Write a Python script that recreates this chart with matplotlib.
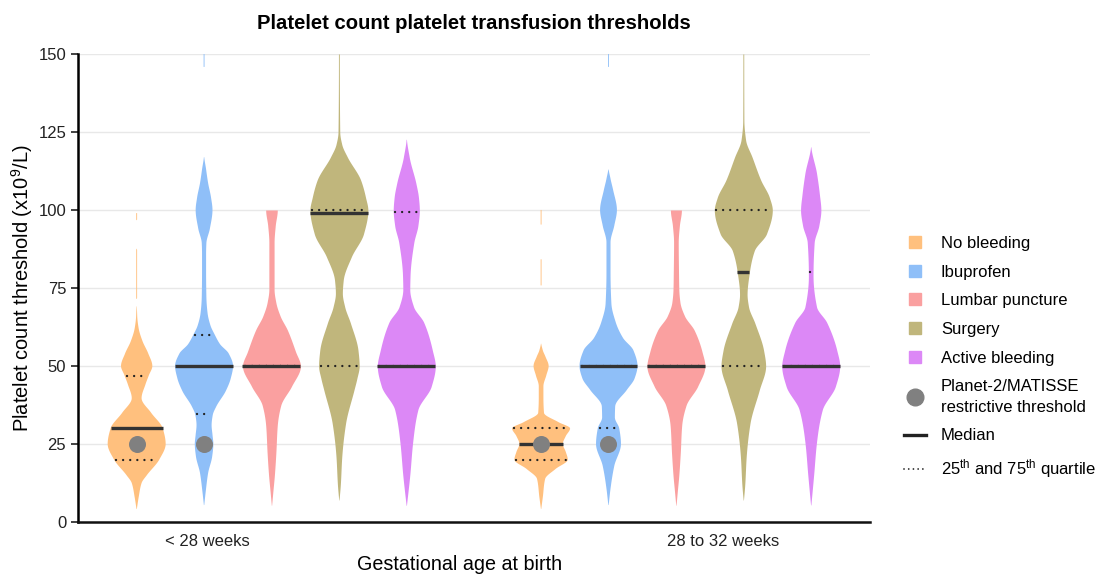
import numpy as np
import matplotlib.pyplot as plt
from matplotlib.lines import Line2D

plt.rcParams['font.family'] = ['Liberation Sans', 'DejaVu Sans']
plt.rcParams['mathtext.fontset'] = 'custom'
plt.rcParams['mathtext.rm'] = 'Liberation Sans'
plt.rcParams['mathtext.it'] = 'Liberation Sans:italic'

#-------------------------------------------------------------
# data
#-------------------------------------------------------------
categories = ["No bleeding", "Ibuprofen", "Lumbar puncture", "Surgery", "Active bleeding"]
colors = ["#FFC07E", "#8FBFF8", "#FAA0A0", "#C0B67C", "#DC88F6"]
groups = ["< 28 weeks", "28 to 32 weeks"]
group_offset = [0, 6]
group_label_pos = [1.05, 8.7]

# violin outlines: y level and relative width (1 = widest point)
nb1_y = [3.8, 8, 12.5, 15, 20, 25, 30, 35, 39.7, 44, 47, 50, 54, 58, 62, 65.8, 67, 71, 72, 87, 88, 96.5, 97, 99]
nb1_w = [0, 0.07, 0.17, 0.35, 0.78, 1.0, 0.9, 0.5, 0.17, 0.3, 0.42, 0.54, 0.4, 0.2, 0.07, 0.02, 0.015, 0, 0.015, 0.015, 0, 0, 0.015, 0.015]
ib1_y = [4.9, 10, 15.7, 21, 25, 28, 31, 34.3, 37, 42, 46, 50, 54, 57, 60, 63, 67, 72, 80, 86, 89.4, 94, 100, 104, 108.6, 113, 118, 145.5, 146, 150]
ib1_w = [0, 0.06, 0.14, 0.28, 0.32, 0.29, 0.26, 0.3, 0.42, 0.75, 0.92, 1.0, 0.85, 0.55, 0.37, 0.22, 0.12, 0.08, 0.07, 0.07, 0.08, 0.2, 0.29, 0.24, 0.14, 0.07, 0, 0, 0.015, 0.015]
lp1_y = [4.9, 10, 15, 22, 31, 37.4, 43.5, 50, 54.6, 61.5, 66, 70.4, 74.6, 80, 89.6, 95, 100]
lp1_w = [0, 0.05, 0.1, 0.15, 0.2, 0.32, 0.69, 1.0, 0.83, 0.55, 0.3, 0.15, 0.09, 0.09, 0.09, 0.13, 0.2]
su1_y = [6.5, 12, 21, 31.6, 42.3, 46, 50, 55, 63.7, 69, 73.3, 77.5, 85, 92.4, 100, 104, 109.6, 117, 121, 125, 150]
su1_w = [0, 0.05, 0.1, 0.23, 0.52, 0.62, 0.7, 0.66, 0.4, 0.2, 0.12, 0.15, 0.43, 0.85, 1.0, 0.92, 0.75, 0.29, 0.1, 0.03, 0.015]
ab1_y = [4.9, 15, 25.6, 36, 43.5, 50, 55, 64, 69, 74.6, 79, 89.6, 95, 100, 104, 108.6, 117, 124]
ab1_w = [0, 0.12, 0.22, 0.4, 0.86, 1.0, 0.9, 0.6, 0.25, 0.12, 0.13, 0.26, 0.4, 0.45, 0.42, 0.33, 0.1, 0]

nb2_y = [3.8, 8, 13.8, 17, 20, 22.5, 25, 27.5, 30, 32, 35, 40, 43.5, 47, 50, 53, 55, 57.8, 75.5, 76, 84, 84.5, 95, 95.5, 100]
nb2_w = [0, 0.06, 0.14, 0.5, 0.92, 0.85, 0.75, 0.85, 1.0, 0.6, 0.1, 0.08, 0.08, 0.18, 0.26, 0.15, 0.06, 0, 0, 0.015, 0.015, 0, 0, 0.015, 0.015]
ib2_y = [4.9, 10.7, 18, 25, 30, 33.5, 37, 42.3, 46, 50, 55, 59, 64, 70, 80, 89.6, 95, 100, 106.4, 110, 113.9, 145.5, 146, 150]
ib2_w = [0, 0.07, 0.2, 0.43, 0.37, 0.22, 0.23, 0.63, 0.9, 1.0, 0.86, 0.5, 0.25, 0.1, 0.07, 0.07, 0.2, 0.29, 0.16, 0.07, 0, 0, 0.015, 0.015]
lp2_y = [4.9, 10, 15, 22, 31, 37.4, 43.5, 50, 54.6, 61.5, 66, 70.4, 74.6, 80, 89.6, 95, 100]
lp2_w = [0, 0.05, 0.1, 0.15, 0.2, 0.35, 0.75, 1.0, 0.9, 0.63, 0.3, 0.14, 0.1, 0.09, 0.08, 0.12, 0.19]
su2_y = [6.5, 12, 21, 31.6, 42.3, 50, 55, 63.7, 69, 73, 79.5, 87, 92.4, 100, 104, 109.6, 117, 122.4, 128.8, 150]
su2_w = [0, 0.05, 0.1, 0.23, 0.55, 0.77, 0.7, 0.4, 0.18, 0.13, 0.2, 0.38, 0.8, 1.0, 0.9, 0.6, 0.3, 0.08, 0.02, 0.015]
ab2_y = [4.9, 15, 25.6, 36, 43.5, 50, 55, 64, 69, 79, 89.6, 95, 100, 105, 111.8, 121.4]
ab2_w = [0, 0.1, 0.2, 0.4, 0.85, 1.0, 0.9, 0.55, 0.2, 0.08, 0.12, 0.28, 0.35, 0.3, 0.2, 0]

shapes_lt28 = [(nb1_y, nb1_w), (ib1_y, ib1_w), (lp1_y, lp1_w), (su1_y, su1_w), (ab1_y, ab1_w)]
shapes_28_32 = [(nb2_y, nb2_w), (ib2_y, ib2_w), (lp2_y, lp2_w), (su2_y, su2_w), (ab2_y, ab2_w)]

median_lt28 = [30, 50, 50, 99, 50]
q1_lt28 = [20, 34.5, 50, 50, 50]
q3_lt28 = [46.7, 60, 50, 100, 99.4]
median_28_32 = [25, 50, 50, 80, 50]
q1_28_32 = [20, 30, 50, 50, 50]
q3_28_32 = [30, 50, 50, 100, 80]

# Planet-2/MATISSE restrictive threshold shown for these categories
threshold_cats = [0, 1]
threshold_value = 25

#-------------------------------------------------------------
# smooth outline (monotone cubic)
#-------------------------------------------------------------
def pchip(x, y, xn):
    x = np.asarray(x, float)
    y = np.asarray(y, float)
    h = np.diff(x)
    d = np.diff(y) / h
    m = np.zeros_like(y)
    for k in range(1, len(x) - 1):
        if d[k - 1] * d[k] > 0:
            w1 = 2 * h[k] + h[k - 1]
            w2 = h[k] + 2 * h[k - 1]
            m[k] = (w1 + w2) / (w1 / d[k - 1] + w2 / d[k])
    m[0] = d[0]
    m[-1] = 0
    idx = np.clip(np.searchsorted(x, xn) - 1, 0, len(h) - 1)
    t = (xn - x[idx]) / h[idx]
    out = ((2 * t**3 - 3 * t**2 + 1) * y[idx] + (t**3 - 2 * t**2 + t) * h[idx] * m[idx]
           + (-2 * t**3 + 3 * t**2) * y[idx + 1] + (t**3 - t**2) * h[idx] * m[idx + 1])
    return np.clip(out, 0, None)

half_width = 0.43
dots = (0, (0.01, 3.0))

fig = plt.figure(figsize=(11.02, 5.74), dpi=100)
ax = fig.add_axes([0.0708, 0.0906, 0.7187, 0.8154])

for g in range(2):
    shapes = [shapes_lt28, shapes_28_32][g]
    meds = [median_lt28, median_28_32][g]
    q1s = [q1_lt28, q1_28_32][g]
    q3s = [q3_lt28, q3_28_32][g]
    for i in range(5):
        xc = group_offset[g] + i
        ys, ws = shapes[i]
        yy = np.linspace(ys[0], ys[-1], 800)
        hw = pchip(ys, ws, yy) * half_width
        ax.fill_betweenx(yy, xc - hw, xc + hw, where=hw > 0.002, color=colors[i], lw=0, zorder=2)
        for q in [q1s[i], q3s[i]]:
            w = pchip(ys, ws, np.array([q]))[0] * half_width
            ax.plot([xc - w + 0.03, xc + w - 0.03], [q, q], color="#222222", lw=1.7,
                    linestyle=dots, dash_capstyle="round", zorder=3)
        w = pchip(ys, ws, np.array([meds[i]]))[0] * half_width
        ax.plot([xc - w, xc + w], [meds[i], meds[i]], color="#333333", lw=2.4,
                solid_capstyle="butt", zorder=4)
    for c in threshold_cats:
        ax.scatter(group_offset[g] + c, threshold_value, s=150, color="#808080", lw=0, zorder=5)

ax.set_xlim(-0.87, 10.88)
ax.set_ylim(0, 150)
ax.set_yticks([0, 25, 50, 75, 100, 125, 150])
ax.set_xticks(group_label_pos)
ax.set_xticklabels(groups)
ax.tick_params(axis="x", length=0, pad=9, labelsize=12, colors="#222222")
ax.tick_params(axis="y", length=5, width=1.2, labelsize=12, colors="#222222")
ax.yaxis.grid(True, color="#E8E8E8", lw=1)
ax.set_axisbelow(True)
for s in ["top", "right"]:
    ax.spines[s].set_visible(False)
ax.spines["left"].set_linewidth(1.8)
ax.spines["bottom"].set_linewidth(1.8)
ax.spines["bottom"].set_color("#111111")

ax.set_title("Platelet count platelet transfusion thresholds", fontsize=14.6, fontweight="bold", pad=18)
ax.set_ylabel("Platelet count threshold (x10$^{9}$/L)", fontsize=14.5)
ax.yaxis.set_label_coords(-0.054, 0.5)
ax.set_xlabel("Gestational age at birth", fontsize=14.2)
ax.xaxis.set_label_coords(0.482, -0.07)

handles = [Line2D([], [], marker="s", linestyle="none", markersize=8, color=c) for c in colors]
handles.append(Line2D([], [], marker="o", linestyle="none", markersize=12, color="#808080"))
handles.append(Line2D([], [], color="#222222", lw=2.4))
handles.append(Line2D([], [], color="#222222", lw=1.3, linestyle=(0, (0.01, 2.6)), dash_capstyle="round"))
labels = categories + ["Planet-2/MATISSE\nrestrictive threshold", "Median",
                       "25$^{\\mathrm{th}}$ and 75$^{\\mathrm{th}}$ quartile"]
leg = fig.legend(handles, labels, loc="upper left", bbox_to_anchor=(0.807, 0.615), frameon=False,
                 fontsize=12, labelspacing=0.82, handlelength=1.3, handletextpad=0.9)
leg.get_texts()[5].set_linespacing(1.45)

plt.savefig("out.png", dpi=100)
